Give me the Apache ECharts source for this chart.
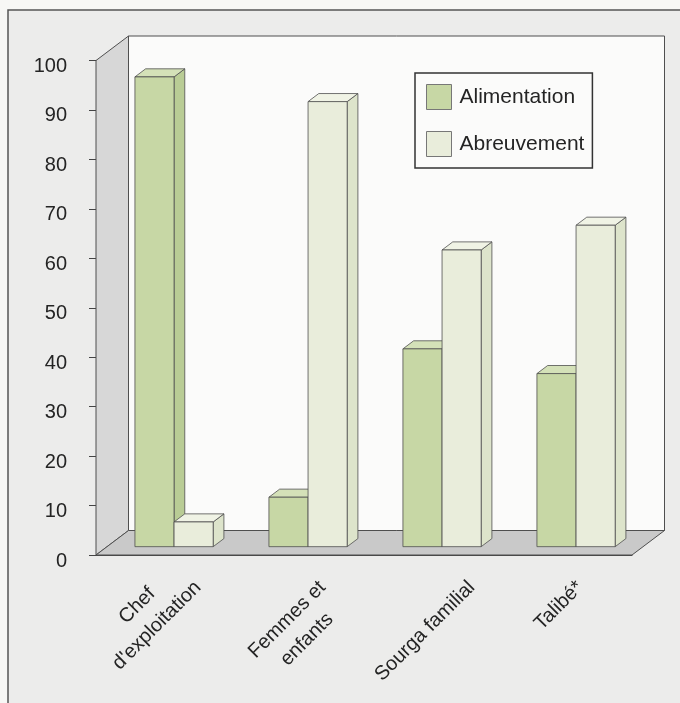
<!DOCTYPE html>
<html>
<head>
<meta charset="utf-8">
<script src="https://cdn.jsdelivr.net/npm/echarts@6/dist/echarts.min.js"></script>
<style>
  html, body { margin: 0; padding: 0; background: #f7f7f5; }
  #chart { width: 680px; height: 703px; }
</style>
</head>
<body>
<div id="chart"></div>
<script>
// data
const categories = ['Chef\nd\'exploitation', 'Femmes et\nenfants', 'Sourga familial', 'Talibé*'];
const alimentation = [95, 10, 40, 35];
const abreuvement = [5, 90, 60, 65];
const seriesNames = ['Alimentation', 'Abreuvement'];

// pseudo 3D geometry (pixels / fractions of depth)
const WALL_DX = 32.5, WALL_DY = -24.5;
const BAR_FRONT = 0.34;   // bar front face, as a fraction of the floor depth
const BAR_DEPTH = 0.33;   // bar depth, same unit
const BAR_WIDTH = 0.292;  // one bar, as a fraction of the category band

// rotated category labels: glyph tops sit LABEL_GAP below the axis, glyph box centred on the band
const LABEL_GAP = 23, LABEL_DX = -6, LABEL_LH = 28, LABEL_SIZE = 20;

const faces = [
  { front: '#c7d7a5', side: '#b9cc95', top: '#d4e1b8' },
  { front: '#e9eddb', side: '#dde4cb', top: '#f0f3e5' }
];
const EDGE = '#4f4f4f';
const font = 'Liberation Sans, Arial, sans-serif';
const TEXT = '#242424';

const chart = echarts.init(document.getElementById('chart'));
const measure = document.createElement('canvas').getContext('2d');
measure.font = LABEL_SIZE + 'px "Liberation Sans"';

function renderRoom(params, api) {
  const cs = params.coordSys;
  const x0 = cs.x, y0 = cs.y, x1 = cs.x + cs.width, y1 = cs.y + cs.height;
  const dx = WALL_DX, dy = WALL_DY;
  const st = fill => ({ fill: fill, stroke: EDGE, lineWidth: 1 });
  return {
    type: 'group',
    children: [
      { type: 'rect', shape: { x: x0 + dx, y: y0 + dy, width: cs.width, height: cs.height }, style: st('#fbfbfa') },
      { type: 'polygon', shape: { points: [[x0, y1], [x0, y0], [x0 + dx, y0 + dy], [x0 + dx, y1 + dy]] }, style: st('#d7d7d7') },
      { type: 'polygon', shape: { points: [[x0, y1], [x1, y1], [x1 + dx, y1 + dy], [x0 + dx, y1 + dy]] }, style: st('#c9c9c9') }
    ]
  };
}

function barRenderer(slot) {
  const f = faces[slot];
  return function (params, api) {
    const i = api.value(0), v = api.value(1);
    const base = api.coord([i, 0]);
    const top = api.coord([i, v]);
    const w = api.size([1, 0])[0] * BAR_WIDTH;
    const fx = base[0] + WALL_DX * BAR_FRONT - (slot === 0 ? w : 0);
    const by = base[1] + WALL_DY * BAR_FRONT;
    const ty = top[1] + WALL_DY * BAR_FRONT;
    const ddx = WALL_DX * BAR_DEPTH, ddy = WALL_DY * BAR_DEPTH;
    const st = fill => ({ fill: fill, stroke: EDGE, lineWidth: 0.8 });
    return {
      type: 'group',
      children: [
        { type: 'polygon', shape: { points: [[fx + w, by], [fx + w, ty], [fx + w + ddx, ty + ddy], [fx + w + ddx, by + ddy]] }, style: st(f.side) },
        { type: 'polygon', shape: { points: [[fx, ty], [fx + w, ty], [fx + w + ddx, ty + ddy], [fx + ddx, ty + ddy]] }, style: st(f.top) },
        { type: 'rect', shape: { x: fx, y: ty, width: w, height: by - ty }, style: st(f.front) }
      ]
    };
  };
}

// Excel-style 45° labels: lines centred on each other, glyph box centred on the band
function renderLabel(params, api) {
  const i = api.value(0);
  const p = api.coord([i, 0]);
  const lines = categories[i].split('\n');
  const widths = lines.map(s => measure.measureText(s).width);
  const L = Math.max.apply(null, widths);
  const c = Math.SQRT1_2;
  const inset = (LABEL_LH - LABEL_SIZE * 0.9) / 2;
  const g = LABEL_LH - 2 * inset;
  // glyph extents of the rotated block, relative to its top-left corner
  let minX = Infinity, maxX = -Infinity, minY = Infinity;
  widths.forEach((w, k) => {
    const a = (L - w) / 2, b = k * LABEL_LH + inset;
    [[a, b], [a + w, b], [a, b + g], [a + w, b + g]].forEach(q => {
      const sx = c * (q[0] + q[1]), sy = c * (q[1] - q[0]);
      minX = Math.min(minX, sx); maxX = Math.max(maxX, sx); minY = Math.min(minY, sy);
    });
  });
  return {
    type: 'text',
    x: p[0] + LABEL_DX - (minX + maxX) / 2,
    y: p[1] + LABEL_GAP - minY,
    rotation: Math.PI / 4,
    style: {
      text: lines.map(s => '{c|' + s + '}').join('\n'),
      align: 'left', verticalAlign: 'top',
      rich: { c: { align: 'center', fontSize: LABEL_SIZE, lineHeight: LABEL_LH, fontFamily: font, fill: TEXT } }
    }
  };
}

const option = {
  backgroundColor: '#f7f7f5',
  animation: false,
  graphic: [{
    type: 'rect', x: 8, y: 10, z: -10, silent: true,
    shape: { width: 700, height: 720 },
    style: { fill: '#ececeb', stroke: '#555', lineWidth: 1.5 }
  }],
  grid: { left: 96, right: 48, top: 60.5, bottom: 148, outerBoundsMode: 'none' },
  legend: {
    data: seriesNames,
    orient: 'vertical',
    left: 415, top: 73,
    padding: [11, 8, 11, 11],
    itemWidth: 25, itemHeight: 25, itemGap: 21,
    icon: 'rect',
    backgroundColor: '#fbfbfa',
    borderColor: '#333', borderWidth: 1.5,
    itemStyle: { borderColor: '#777', borderWidth: 1 },
    textStyle: { fontSize: 21, color: TEXT, fontFamily: font, padding: [0, 0, 0, 3] }
  },
  xAxis: {
    type: 'category',
    data: categories,
    axisLine: { lineStyle: { color: '#444', width: 1 } },
    axisTick: { length: 6, lineStyle: { color: '#444' } },
    splitLine: { show: false },
    axisLabel: { show: false }
  },
  yAxis: {
    type: 'value', min: 0, max: 100, interval: 10,
    axisLine: { show: true, lineStyle: { color: '#444', width: 1 } },
    axisTick: { show: true, length: 7, lineStyle: { color: '#444' } },
    splitLine: { show: false },
    axisLabel: {
      fontSize: 20, color: TEXT, fontFamily: font, margin: 29,
      verticalAlign: 'top', lineHeight: 12
    }
  },
  series: [
    {
      type: 'custom', name: 'room', silent: true, clip: false, z: 1,
      renderItem: renderRoom, data: [[0, 0]]
    },
    {
      type: 'custom', name: seriesNames[0], clip: false, z: 2,
      itemStyle: { color: faces[0].front },
      renderItem: barRenderer(0),
      encode: { x: 0, y: 1 },
      data: alimentation.map((v, i) => [i, v])
    },
    {
      type: 'custom', name: seriesNames[1], clip: false, z: 3,
      itemStyle: { color: faces[1].front },
      renderItem: barRenderer(1),
      encode: { x: 0, y: 1 },
      data: abreuvement.map((v, i) => [i, v])
    },
    {
      type: 'custom', name: 'labels', silent: true, clip: false, z: 4,
      renderItem: renderLabel,
      encode: { x: 0, y: 1 },
      data: categories.map((c, i) => [i, 0])
    }
  ]
};

chart.setOption(option);
</script>
</body>
</html>
